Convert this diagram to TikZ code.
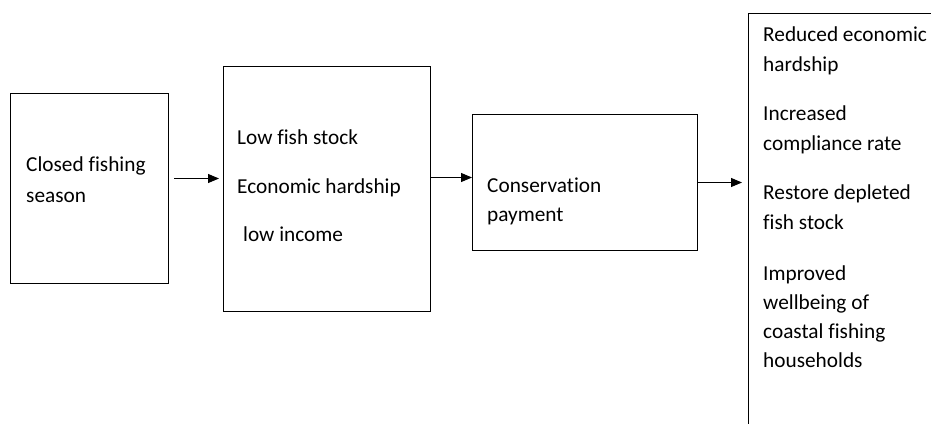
\documentclass[tikz,border=0pt]{standalone}
\usepackage{fontspec}
\setmainfont{Carlito}[Ligatures={CommonOff}]
\usetikzlibrary{arrows.meta}
\begin{document}
\begin{tikzpicture}[x=1pt,y=-1pt,
  box/.style={draw=black,line width=1pt,rectangle,inner sep=0pt,anchor=north west},
  txt/.style={anchor=base west,inner sep=0pt,font=\fontsize{21.3pt}{31pt}\selectfont},
  arr/.style={draw=black,line width=1.1pt,-{Triangle[length=11pt,width=9pt]}}]
\useasboundingbox (0,0) rectangle (931,423);
\clip (0,0) rectangle (931,423);
% boxes
\node[box,minimum width=158pt,minimum height=190pt] (b1) at (10,93) {};
\node[box,minimum width=207pt,minimum height=245pt] (b2) at (223,66) {};
\node[box,minimum width=225pt,minimum height=136pt] (b3) at (472,114) {};
\node[box,minimum width=200pt,minimum height=420pt] (b4) at (748,13) {};
% box 1 text
\node[txt] (t1a) at (26,171) {Closed fishing};
\node[txt] (t1b) at (26,202) {season};
% box 2 text
\node[txt] (t2a) at (237,144) {Low fish stock};
\node[txt] (t2b) at (237,193) {Economic hardship};
\node[txt] (t2c) at (243,241) {low income};
% box 3 text
\node[txt] (t3a) at (487,192) {Conservation};
\node[txt] (t3b) at (487,221) {payment};
% box 4 text
\node[txt] (t4a) at (763,41) {Reduced economic};
\node[txt] (t4b) at (763,71) {hardship};
\node[txt] (t4c) at (763,120) {Increased};
\node[txt] (t4d) at (763,150) {compliance rate};
\node[txt] (t4e) at (763,199) {Restore depleted};
\node[txt] (t4f) at (763,229) {fish stock};
\node[txt] (t4g) at (763,280) {Improved};
\node[txt] (t4h) at (763,309) {wellbeing of};
\node[txt] (t4i) at (763,338) {coastal fishing};
\node[txt] (t4j) at (763,367) {households};
% arrows
\draw[arr] ([xshift=5pt,yshift=10pt]b1.east) -- ([xshift=-4pt,yshift=10.5pt]b2.west);
\draw[arr] ([yshift=11.5pt]b2.east) -- ([yshift=5pt]b3.west);
\draw[arr] (b3.east) -- ([xshift=-6pt,yshift=41pt]b4.west);
\end{tikzpicture}
\end{document}
